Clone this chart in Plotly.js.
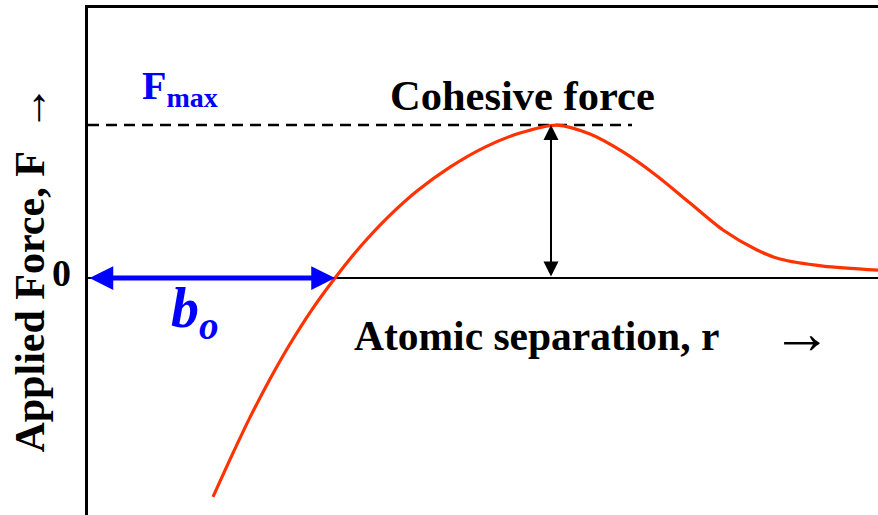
<!DOCTYPE html>
<html>
<head>
<meta charset="utf-8">
<script src="https://cdn.plot.ly/plotly-3.0.1.min.js"></script>
<style>html,body{margin:0;padding:0;background:#fff;}#chart{width:878px;height:515px;}</style>
</head>
<body>
<div id="chart"></div>
<script>
// Atomic separation r (arbitrary units) and applied force F (normalised to Fmax = 1)
const r = [1.25, 1.44, 1.62, 1.82, 2.02, 2.24, 2.47, 2.72, 2.99, 3.29, 3.62, 3.97, 4.32, 4.69, 5.02, 5.35, 5.69, 6.02, 6.35, 6.69, 6.92, 7.35, 7.90];
const F = [-1.431, -1.158, -0.911, -0.660, -0.431, -0.206, 0, 0.203, 0.392, 0.569, 0.725, 0.856, 0.948, 1.0, 0.941, 0.824, 0.667, 0.490, 0.314, 0.183, 0.124, 0.078, 0.052];
const Fmax = 1;          // cohesive force
const b0 = 2.47;         // equilibrium separation (F = 0)
const rPeak = 4.63;      // separation at Fmax
const dashX = [0, 5.44]; // extent of Fmax reference line
const labels = {
  fmax: '<b>F<sub>max</sub></b>',
  cohesive: '<b>Cohesive force</b>',
  zero: '<b>0</b>',
  b0: '<b><i>b<sub>o</sub></i></b>',
  xTitle: '<b>Atomic separation, r</b>',
  arrow: '→',
  yTitle: '<b>Applied Force, F</b>'
};

const serif = 'Liberation Serif, Times New Roman, serif';
const blue = '#0000ff';

const traces = [
  {x: dashX, y: [Fmax, Fmax], mode: 'lines', line: {color: '#000', width: 2.5, dash: '11px,7px'}, hoverinfo: 'skip'},
  {x: r, y: F, mode: 'lines', line: {color: '#ff3300', width: 3.2, shape: 'spline', smoothing: 0.8}, hoverinfo: 'skip'}
];

function txt(o) { return Object.assign({showarrow: false, xanchor: 'center', yanchor: 'middle'}, o); }

const annotations = [
  txt({x: 0.92, y: 1.24, xref: 'x', yref: 'y', text: labels.fmax, font: {family: serif, size: 40, color: blue}}),
  txt({x: 4.345, y: 1.19, xref: 'x', yref: 'y', text: labels.cohesive, font: {family: serif, size: 42.5, color: '#000'}}),
  txt({x: -0.033, y: 0.477, xref: 'paper', yref: 'paper', text: labels.zero, font: {family: serif, size: 38, color: '#000'}}),
  txt({x: 1.07, y: -0.22, xref: 'x', yref: 'y', text: labels.b0, font: {family: serif, size: 56, color: blue}}),
  txt({x: 4.48, y: -0.38, xref: 'x', yref: 'y', text: labels.xTitle, font: {family: serif, size: 41.5, color: '#000'}}),
  txt({x: 7.14, y: -0.36, xref: 'x', yref: 'y', text: labels.arrow, font: {family: serif, size: 60, color: '#000'}}),
  txt({x: -0.0734, y: 0.419, xref: 'paper', yref: 'paper', text: labels.yTitle, textangle: -90, font: {family: serif, size: 42, color: '#000'}}),
  txt({x: -0.071, y: 0.803, xref: 'paper', yref: 'paper', text: labels.arrow, textangle: -90, font: {family: serif, size: 46, color: '#000'}}),
  // blue double arrow: 0 .. b0
  {x: b0, y: 0, ax: 0, ay: 0, xref: 'x', yref: 'y', axref: 'x', ayref: 'y', text: '', showarrow: true,
   arrowside: 'end+start', arrowhead: 2, startarrowhead: 2, arrowsize: 0.95, startarrowsize: 0.95, arrowwidth: 5, arrowcolor: blue, standoff: 0, startstandoff: 0},
  // black double arrow: 0 .. Fmax
  {x: rPeak, y: Fmax, ax: rPeak, ay: 0, xref: 'x', yref: 'y', axref: 'x', ayref: 'y', text: '', showarrow: true,
   arrowside: 'end+start', arrowhead: 2, startarrowhead: 2, arrowsize: 1.5, startarrowsize: 1.5, arrowwidth: 2, arrowcolor: '#000', standoff: 0, startstandoff: 0}
];

const layout = {
  width: 878, height: 515,
  margin: {l: 88, r: 0, t: 8, b: 0, pad: 0},
  paper_bgcolor: '#fff', plot_bgcolor: '#fff',
  showlegend: false,
  xaxis: {range: [0, 7.9], side: 'top', showline: true, linecolor: '#000', linewidth: 3, showgrid: false, zeroline: false, showticklabels: false, ticks: '', fixedrange: true},
  yaxis: {range: [-1.549, 1.765], showline: true, linecolor: '#000', linewidth: 3, showgrid: false, zeroline: true, zerolinecolor: '#000', zerolinewidth: 2.5, showticklabels: false, ticks: '', fixedrange: true},
  annotations: annotations
};

Plotly.newPlot('chart', traces, layout, {staticPlot: true, displayModeBar: false});
</script>
</body>
</html>
